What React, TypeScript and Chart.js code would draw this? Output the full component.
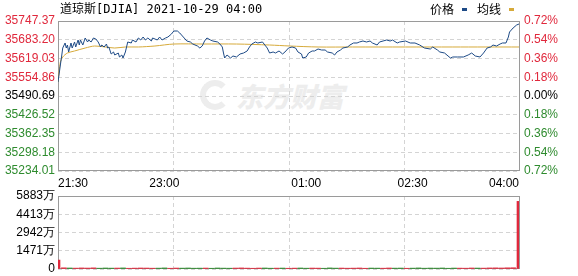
import React, { useEffect, useRef } from 'react';
import { Chart, registerables } from 'chart.js';
Chart.register(...registerables);

// ---- data ----
const prevClose = 35490.69;
const priceMinutes = [0, 2, 3, 4, 6, 7, 8, 9, 11, 12, 14, 15, 17, 18, 19, 21, 23, 25, 26, 28, 30, 32, 34, 36, 37, 39, 41, 42, 43, 45, 47, 48, 51, 52, 54, 55, 57, 58, 59, 62, 63, 66, 68, 70, 72, 74, 76, 79, 80, 84, 86, 88, 91, 93, 96, 98, 101, 103, 106, 109, 112, 114, 118, 120, 122, 124, 126, 129, 131, 135, 137, 139, 140, 141, 143, 146, 148, 151, 154, 157, 160, 162, 164, 167, 169, 173, 175, 177, 179, 182, 184, 187, 190, 192, 195, 198, 201, 203, 206, 207, 210, 212, 215, 217, 220, 223, 226, 228, 232, 234, 236, 239, 241, 245, 247, 250, 253, 255, 258, 261, 264, 266, 270, 272, 275, 278, 281, 283, 287, 289, 294, 298, 302, 306, 310, 315, 317, 321, 323, 327, 332, 334, 338, 343, 347, 350, 353, 357, 360, 363, 366, 368, 371, 374, 376, 379, 381, 382, 385, 388, 390];
const prices = [35538.6, 35596.8, 35624.2, 35654.9, 35672.1, 35654.9, 35665.2, 35641.3, 35672.1, 35654.9, 35675.5, 35658.4, 35682.3, 35665.2, 35682.3, 35665.2, 35689.2, 35675.5, 35682.3, 35675.5, 35689.2, 35685.8, 35675.5, 35658.4, 35665.2, 35658.4, 35668.6, 35654.9, 35658.4, 35634.4, 35641.3, 35631.0, 35637.8, 35624.2, 35631.0, 35620.7, 35641.3, 35658.4, 35675.5, 35672.1, 35682.3, 35675.5, 35689.2, 35682.3, 35692.6, 35682.3, 35689.2, 35678.9, 35689.2, 35682.3, 35692.6, 35682.3, 35689.2, 35692.6, 35702.9, 35713.1, 35713.1, 35706.3, 35692.6, 35678.9, 35675.5, 35668.6, 35661.8, 35654.9, 35661.8, 35678.9, 35689.2, 35682.3, 35678.9, 35675.5, 35668.6, 35658.4, 35637.8, 35620.7, 35631.0, 35620.7, 35627.6, 35624.2, 35634.4, 35637.8, 35644.7, 35658.4, 35668.6, 35675.5, 35672.1, 35675.5, 35665.2, 35654.9, 35637.8, 35641.3, 35637.8, 35644.7, 35634.4, 35641.3, 35654.9, 35658.4, 35654.9, 35641.3, 35634.4, 35620.7, 35624.2, 35637.8, 35644.7, 35644.7, 35651.5, 35648.1, 35648.1, 35641.3, 35637.8, 35631.0, 35641.3, 35648.1, 35654.9, 35658.4, 35665.2, 35672.1, 35672.1, 35675.5, 35678.9, 35675.5, 35678.9, 35672.1, 35665.2, 35675.5, 35678.9, 35682.3, 35678.9, 35682.3, 35672.1, 35675.5, 35678.9, 35672.1, 35672.1, 35665.2, 35654.9, 35651.5, 35658.4, 35648.1, 35641.3, 35637.8, 35620.7, 35624.2, 35624.2, 35624.2, 35631.0, 35637.8, 35627.6, 35624.2, 35637.8, 35654.9, 35658.4, 35665.2, 35661.8, 35668.6, 35672.1, 35672.1, 35692.6, 35709.7, 35723.4, 35733.7, 35737.1];
const avgMinutes = [0, 2, 4, 8, 14, 23, 31, 40, 48, 57, 68, 82, 98, 123, 151, 179, 196, 220, 249, 294, 334, 390];
const avgPrices = [35538.6, 35607.1, 35624.2, 35637.8, 35644.7, 35654.9, 35661.8, 35658.4, 35654.9, 35658.4, 35658.4, 35661.8, 35668.6, 35668.6, 35668.6, 35665.2, 35661.8, 35658.4, 35658.4, 35658.4, 35658.4, 35658.4];
const volMinutes = [0, 5, 10, 15, 20, 25, 30, 35, 40, 45, 50, 55, 60, 65, 70, 75, 80, 85, 90, 95, 100, 105, 110, 115, 120, 125, 130, 135, 140, 145, 150, 155, 160, 165, 170, 175, 180, 185, 190, 195, 200, 205, 210, 215, 220, 225, 230, 235, 240, 245, 250, 255, 260, 265, 270, 275, 280, 285, 290, 295, 300, 305, 310, 315, 320, 325, 330, 335, 340, 345, 350, 355, 360, 365, 370, 375, 380, 385, 390];
const volumes = [
  720, 95, 80, 70, 85, 75, 90, 65, 80, 70,
  75, 85, 60, 70, 80, 75, 65, 70, 85, 60,
  75, 70, 80, 65, 70, 75, 60, 80, 70, 65,
  75, 85, 70, 60, 75, 80, 65, 70, 75, 60,
  70, 80, 65, 75, 70, 60, 85, 70, 75, 65,
  70, 80, 60, 75, 70, 65, 80, 70, 75, 60,
  70, 85, 65, 75, 70, 80, 60, 75, 70, 65,
  80, 75, 70, 85, 90, 80, 95, 100,
  5450,
];
const priceTicks = [35234.01, 35298.18, 35362.35, 35426.52, 35490.69, 35554.86, 35619.03, 35683.2, 35747.37];
const priceTickLabels = ['35234.01', '35298.18', '35362.35', '35426.52', '35490.69', '35554.86', '35619.03', '35683.20', '35747.37'];
const pctTickLabels = ['0.72%', '0.54%', '0.36%', '0.18%', '0.00%', '0.18%', '0.36%', '0.54%', '0.72%'];
const timeTickMinutes = [0, 90, 210, 300, 390];
const timeTickLabels = ['21:30', '23:00', '01:00', '02:30', '04:00'];
const gridMinutes = [97.5, 195, 292.5];
const volTicks = [0, 1471, 2942, 4413, 5883];
const volTickLabels = ['0', '1471万', '2942万', '4413万', '5883万'];

const RED = '#e0283c';
const GREEN = '#2e8b2e';
const GRID = '#d4d4d4';
const FONT = { family: '"Liberation Sans", Arial, sans-serif', size: 12 };

function tickColor(v: number) {
  if (Math.abs(v - prevClose) < 0.005) return '#000';
  return v > prevClose ? RED : GREEN;
}

function priceAt(m: number) {
  for (let i = 1; i < priceMinutes.length; i++) {
    if (m <= priceMinutes[i]) {
      const a = priceMinutes[i - 1], b = priceMinutes[i];
      const t = (m - a) / (b - a);
      return prices[i - 1] + t * (prices[i] - prices[i - 1]);
    }
  }
  return prices[prices.length - 1];
}

const boxPlugin = {
  id: 'box',
  beforeDatasetsDraw(chart: any) {
    const { ctx, chartArea: a, scales } = chart;
    const x = scales.x;
    ctx.save();
    ctx.strokeStyle = GRID;
    ctx.lineWidth = 1;
    ctx.setLineDash([4, 3]);
    gridMinutes.forEach((m) => {
      const px = Math.round(x.getPixelForValue(m)) + 0.5;
      ctx.beginPath();
      ctx.moveTo(px, a.top);
      ctx.lineTo(px, a.bottom);
      ctx.stroke();
    });
    ctx.setLineDash([]);
    ctx.strokeStyle = '#9a9a9a';
    ctx.strokeRect(Math.round(a.left) + 0.5, Math.round(a.top) + 0.5, Math.round(a.right - a.left), Math.round(a.bottom - a.top) - 1);
    ctx.restore();
  },
};

function fixV(w: number) {
  return (s: any) => { s.width = w; s.paddingTop = 0; s.paddingBottom = 0; };
}
function fixH(h: number) {
  return (s: any) => { s.height = h; s.paddingLeft = 0; s.paddingRight = 0; };
}

export default function App() {
  const mainRef = useRef<HTMLCanvasElement>(null);
  const volRef = useRef<HTMLCanvasElement>(null);

  useEffect(() => {
    const main = new Chart(mainRef.current!, {
      type: 'line',
      data: {
        datasets: [
          {
            label: '价格',
            data: priceMinutes.map((m, i) => ({ x: m, y: prices[i] })),
            borderColor: '#1d4a86',
            borderWidth: 1,
            pointRadius: 0,
            tension: 0,
          },
          {
            label: '均线',
            data: avgMinutes.map((m, i) => ({ x: m, y: avgPrices[i] })),
            borderColor: '#d6aa3a',
            borderWidth: 1,
            pointRadius: 0,
            tension: 0.3,
          },
        ],
      },
      options: {
        responsive: false,
        animation: false,
        events: [],
        layout: { padding: { top: 21, left: 0, right: 0, bottom: 0 } },
        plugins: { legend: { display: false }, tooltip: { enabled: false }, title: { display: false } },
        scales: {
          x: {
            type: 'linear', min: 0, max: 390, position: 'bottom',
            afterBuildTicks: (s: any) => { s.ticks = timeTickMinutes.map((v) => ({ value: v })); },
            ticks: { callback: (_v: any, i: number) => timeTickLabels[i], align: 'inner', maxRotation: 0, autoSkip: false, padding: 5, font: FONT, color: '#000' },
            grid: { display: false, drawTicks: false },
            border: { display: false },
            afterFit: fixH(21),
          },
          y: {
            type: 'linear', position: 'left', min: 35234.01, max: 35747.37,
            afterBuildTicks: (s: any) => { s.ticks = priceTicks.map((v) => ({ value: v })); },
            ticks: { callback: (_v: any, i: number) => priceTickLabels[i], color: (c: any) => tickColor(c.tick.value), font: FONT, padding: 3, autoSkip: false },
            grid: { color: GRID, drawTicks: false },
            border: { display: false, dash: [4, 3] },
            afterFit: fixV(58),
          },
          y2: {
            type: 'linear', position: 'right', min: 35234.01, max: 35747.37,
            afterBuildTicks: (s: any) => { s.ticks = priceTicks.map((v) => ({ value: v })); },
            ticks: { callback: (_v: any, i: number) => pctTickLabels[i], color: (c: any) => tickColor(c.tick.value), font: FONT, padding: 5, autoSkip: false },
            grid: { display: false, drawTicks: false },
            border: { display: false },
            afterFit: fixV(59),
          },
        },
      } as any,
      plugins: [boxPlugin],
    });

    const colors = volMinutes.map((m) => (m === 0 || priceAt(m) >= priceAt(m - 5) ? RED : GREEN));
    const edgeIdx = [0, volMinutes.length - 1];
    const vol = new Chart(volRef.current!, {
      type: 'bar',
      data: {
        datasets: [
          {
            data: edgeIdx.map((i) => ({ x: volMinutes[i], y: volumes[i] })),
            backgroundColor: edgeIdx.map((i) => colors[i]),
            barThickness: 4,
            grouped: false,
          },
          {
            data: volMinutes.map((m, i) => ({ x: m, y: volumes[i] })).filter((_d, i) => !edgeIdx.includes(i)),
            backgroundColor: colors.filter((_c, i) => !edgeIdx.includes(i)),
            barThickness: 5,
            grouped: false,
          },
        ],
      },
      options: {
        responsive: false,
        animation: false,
        events: [],
        layout: { padding: { top: 6, left: 0, right: 59, bottom: 7 } },
        plugins: { legend: { display: false }, tooltip: { enabled: false } },
        scales: {
          x: {
            type: 'linear', min: 0, max: 390, offset: false,
            ticks: { display: false },
            grid: { display: false, drawTicks: false, offset: false },
            border: { display: false },
            afterFit: fixH(0),
          },
          y: {
            type: 'linear', position: 'left', min: 0, max: 5883,
            afterBuildTicks: (s: any) => { s.ticks = volTicks.map((v) => ({ value: v })); },
            ticks: { callback: (_v: any, i: number) => volTickLabels[i], color: '#000', font: FONT, padding: 3, autoSkip: false },
            grid: { color: GRID, drawTicks: false },
            border: { display: false, dash: [4, 3] },
            afterFit: fixV(58),
          },
        },
      } as any,
      plugins: [boxPlugin],
    });

    return () => { main.destroy(); vol.destroy(); };
  }, []);

  const cjk = '"DejaVu Sans Mono", "Noto Sans CJK SC", monospace';
  return (
    <div style={{ position: 'fixed', left: 0, top: 0, width: 578, height: 276, background: '#fff', overflow: 'hidden' }}>
      {/* watermark */}
      <div style={{ position: 'absolute', left: 200, top: 80, width: 30, height: 30, borderRadius: '50%', border: '6px solid #ededed', borderRightColor: 'transparent', boxSizing: 'border-box' }} />
      <div style={{ position: 'absolute', left: 236, top: 78, fontFamily: '"Noto Sans CJK SC", sans-serif', fontWeight: 900, fontSize: 27, fontStyle: 'italic', color: '#ededed', lineHeight: '36px', whiteSpace: 'nowrap' }}>东方财富</div>
      <canvas ref={mainRef} width={578} height={192} style={{ position: 'absolute', left: 0, top: 0, display: 'block' }} />
      <canvas ref={volRef} width={578} height={86} style={{ position: 'absolute', left: 0, top: 190, display: 'block' }} />
      {/* title */}
      <div style={{ position: 'absolute', left: 60, top: 1, fontFamily: cjk, fontSize: 12, lineHeight: '16px', color: '#000', whiteSpace: 'nowrap' }}>道琼斯[DJIA] 2021-10-29 04:00</div>
      {/* legend */}
      <div style={{ position: 'absolute', left: 430, top: 1, fontFamily: '"Noto Sans CJK SC", sans-serif', fontSize: 12, lineHeight: '16px', color: '#000', whiteSpace: 'nowrap', display: 'flex', alignItems: 'center' }}>
        <span>价格</span>
        <span style={{ display: 'inline-block', width: 5, height: 3, background: '#1d4a86', marginLeft: 8, marginRight: 10 }} />
        <span>均线</span>
        <span style={{ display: 'inline-block', width: 5, height: 3, background: '#d6aa3a', marginLeft: 8 }} />
      </div>
    </div>
  );
}
